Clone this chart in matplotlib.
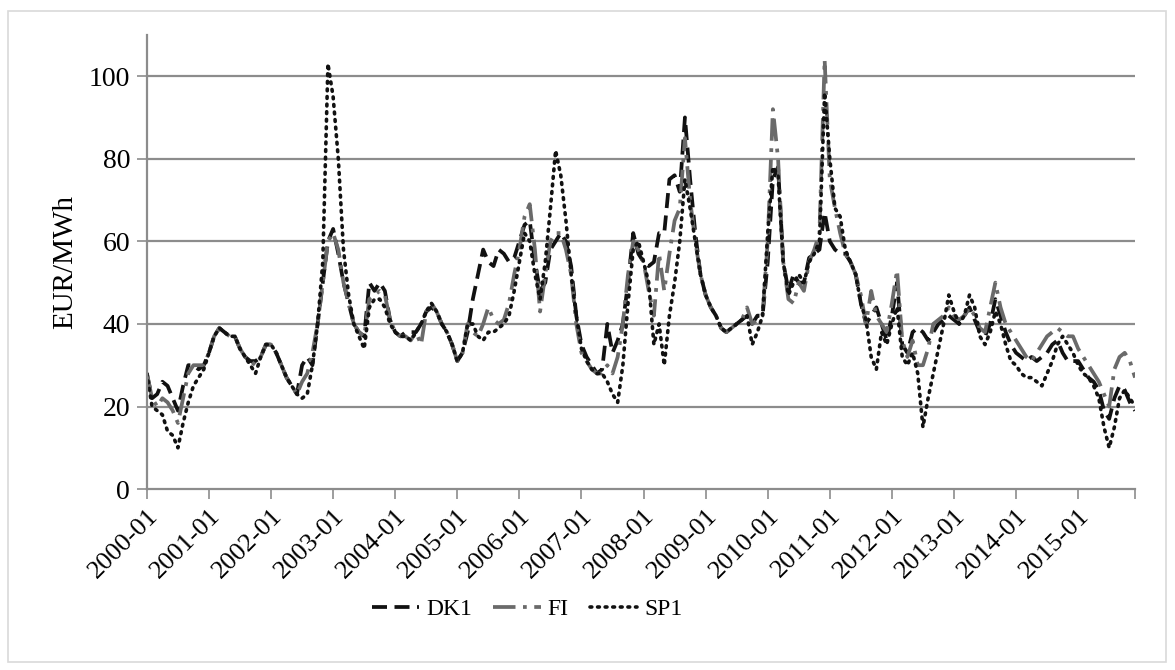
import matplotlib
matplotlib.use("Agg")
import matplotlib.pyplot as plt
import numpy as np
from matplotlib.patches import Rectangle

plt.rcParams["font.family"] = ["Liberation Serif", "DejaVu Serif"]

# monthly prices 2000-01 .. 2015-12, EUR/MWh
DK1 = [
    28, 22, 23, 26, 25, 22, 19, 25, 30, 30, 29, 30,   # 2000
    33, 37, 39, 38, 37, 37, 34, 32, 31, 31, 32, 35,   # 2001
    35, 33, 30, 27, 25, 23, 30, 32, 30, 40, 50, 60,   # 2002
    63, 57, 50, 45, 40, 38, 37, 50, 48, 50, 48, 41,   # 2003
    38, 37, 38, 38, 38, 40, 43, 44, 43, 40, 38, 35,   # 2004
    31, 33, 38, 46, 52, 58, 55, 54, 58, 57, 55, 56,   # 2005
    60, 64, 65, 55, 48, 50, 58, 60, 62, 60, 54, 42,   # 2006
    35, 32, 30, 28, 29, 40, 33, 36, 40, 50, 62, 57,   # 2007
    55, 54, 55, 62, 62, 75, 76, 72, 90, 75, 62, 52,   # 2008
    47, 44, 42, 39, 38, 39, 40, 41, 42, 40, 42, 42,   # 2009
    55, 75, 78, 55, 48, 52, 50, 50, 56, 57, 58, 67,   # 2010
    60, 58, 57, 57, 55, 52, 45, 40, 42, 44, 40, 36,   # 2011
    42, 50, 35, 33, 38, 39, 38, 36, 38, 40, 41, 42,   # 2012
    41, 40, 42, 44, 41, 38, 37, 40, 46, 42, 38, 35,   # 2013
    33, 32, 31, 32, 31, 32, 33, 35, 36, 33, 31, 31,   # 2014
    31, 29, 27, 26, 24, 19, 17, 22, 25, 24, 21, 19,   # 2015
]
FI = [
    28, 22, 20, 22, 21, 19, 16, 22, 28, 30, 30, 30,
    33, 37, 39, 38, 37, 37, 34, 32, 31, 30, 32, 35,
    35, 33, 30, 27, 25, 23, 26, 28, 33, 40, 50, 60,
    62, 58, 50, 45, 40, 38, 37, 46, 47, 48, 47, 41,
    38, 37, 37, 36, 38, 35, 43, 45, 43, 40, 38, 35,
    31, 33, 40, 38, 37, 40, 44, 41, 40, 41, 45, 52,
    58, 66, 69, 58, 43, 52, 60, 62, 62, 58, 52, 40,
    33, 31, 29, 28, 28, 30, 28, 32, 40, 52, 60, 58,
    55, 48, 42, 57, 48, 57, 65, 68, 85, 70, 60, 52,
    47, 44, 42, 39, 38, 39, 40, 41, 44, 40, 41, 42,
    60, 92, 80, 55, 46, 45, 50, 48, 55, 58, 62, 104,
    75, 68, 62, 57, 55, 52, 47, 40, 48, 42, 40, 38,
    45, 53, 36, 32, 36, 30, 30, 34, 40, 41, 42, 44,
    42, 41, 42, 44, 42, 39, 38, 44, 50, 44, 40, 38,
    36, 34, 32, 31, 33, 35, 37, 38, 39, 38, 37, 37,
    34, 32, 30, 28, 26, 23, 20, 29, 32, 33, 31, 27,
]
SP1 = [
    28, 20, 19, 18, 14, 13, 10, 16, 21, 25, 27, 29,
    33, 37, 39, 38, 37, 37, 34, 32, 30, 28, 32, 35,
    35, 33, 30, 27, 25, 23, 22, 23, 30, 40, 55, 103,
    95, 80, 58, 47, 40, 37, 34, 44, 46, 46, 44, 40,
    38, 37, 37, 36, 38, 40, 43, 45, 43, 40, 38, 35,
    31, 33, 40, 40, 37, 36, 38, 38, 39, 40, 42, 48,
    55, 62, 60, 52, 46, 55, 68, 82, 76, 65, 52, 42,
    34, 31, 29, 28, 28, 26, 23, 21, 30, 45, 58, 60,
    55, 50, 35, 40, 30, 42, 50, 60, 75, 68, 60, 52,
    47, 44, 42, 39, 38, 39, 40, 41, 42, 35, 38, 42,
    62, 78, 76, 55, 47, 50, 52, 50, 55, 57, 60, 96,
    80, 68, 66, 58, 55, 52, 45, 41, 32, 29, 38, 35,
    40, 44, 32, 30, 33, 28, 15, 22, 28, 34, 40, 47,
    43, 40, 42, 47, 44, 37, 35, 38, 43, 40, 35, 31,
    30, 28, 27, 27, 26, 25, 28, 31, 35, 37, 35, 33,
    30, 28, 27, 25, 22, 15, 10, 15, 22, 24, 22, 20,
]
tick_labels = ["%d-01" % y for y in range(2000, 2016)]

months = np.arange(len(DK1))

fig = plt.figure(figsize=(11.75, 6.7), dpi=100)
ax = fig.add_axes([0.125, 0.27, 0.841, 0.678])

ax.plot(months, DK1, color="#111111", lw=2.7, dashes=(4, 2), label="DK1")
ax.plot(months, FI, color="#6a6a6a", lw=2.7, dashes=(6, 2, 1, 2), label="FI")
ax.plot(months, SP1, color="#111111", lw=2.6, dashes=(0.5, 1.6),
        dash_capstyle="round", label="SP1")

ax.set_xlim(0, len(DK1) - 1)
ax.set_ylim(0, 110)
ax.set_yticks(range(0, 101, 20))
for v in range(20, 101, 20):
    ax.axhline(v, color="#8c8c8c", lw=1.6, zorder=0)

ticks = list(range(0, len(DK1), 12))
ax.set_xticks(ticks + [len(DK1) - 1])
ax.set_xticklabels(tick_labels + [""], rotation=45, ha="right",
                   rotation_mode="anchor", fontsize=19)
ax.tick_params(axis="x", length=7, width=1.2, color="#8c8c8c", pad=4)
ax.tick_params(axis="y", length=7, width=1.2, color="#8c8c8c",
               labelsize=20, pad=5)

for s in ["top", "right"]:
    ax.spines[s].set_visible(False)
for s in ["left", "bottom"]:
    ax.spines[s].set_color("#8c8c8c")
    ax.spines[s].set_linewidth(1.6)

ax.set_ylabel("EUR/MWh", fontsize=21, labelpad=8)

ax.legend(loc="upper center", bbox_to_anchor=(0.385, -0.195), ncol=3,
          frameon=False, fontsize=17, handlelength=2.0, columnspacing=0.9,
          handletextpad=0.3)

fig.patches.append(Rectangle((0.007, 0.012), 0.985, 0.972, transform=fig.transFigure,
                             fill=False, edgecolor="#d9d9d9", lw=1.2))

fig.savefig("out.png", dpi=100)
